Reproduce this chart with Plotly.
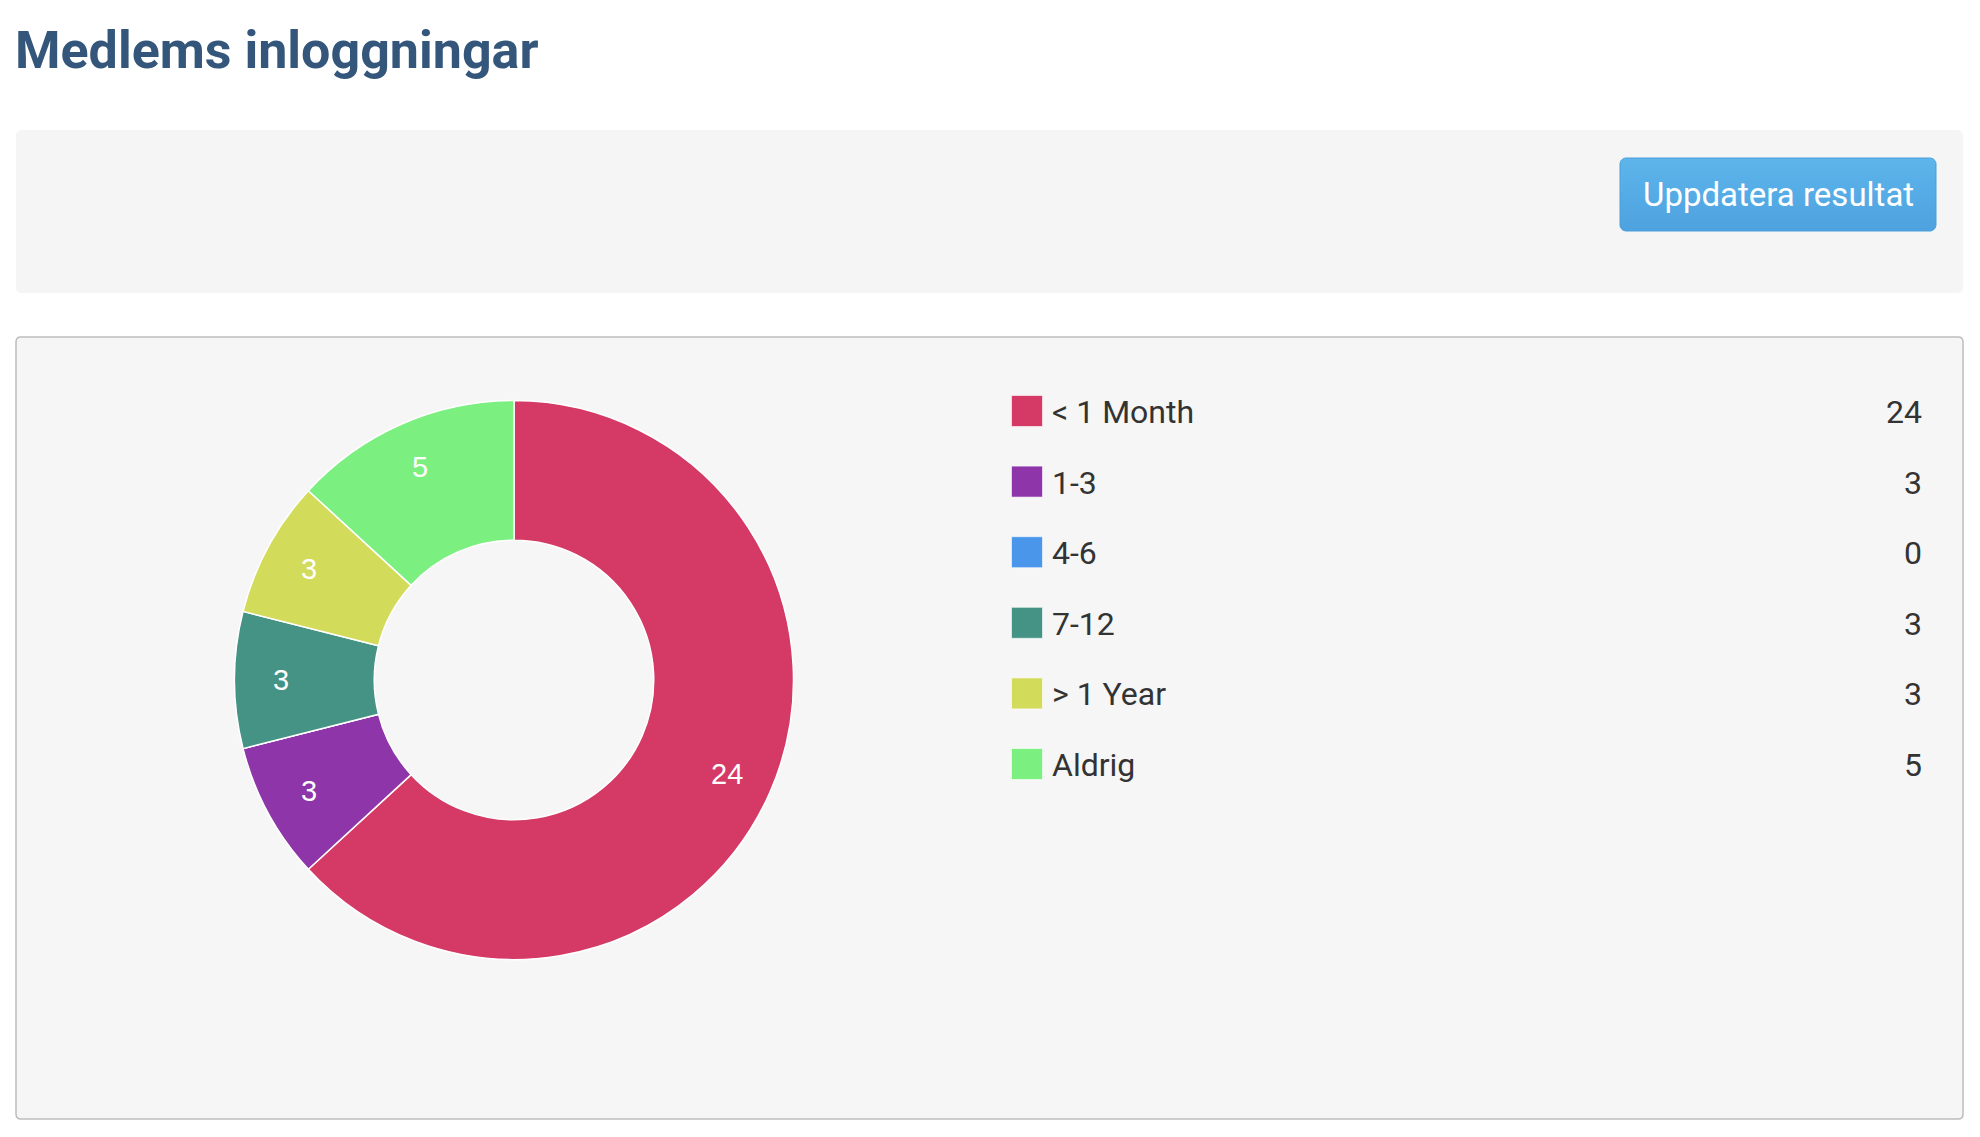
import numpy as np
import plotly.graph_objects as go

# login buckets and member counts
labels = ['< 1 Month', '1-3', '4-6', '7-12', '> 1 Year', 'Aldrig']
counts = [24, 3, 0, 3, 3, 5]
colors = ['#d43a65', '#8e35a9', '#4a96eb', '#459384', '#d3db5a', '#7bef7f']

title_text = 'Medlems inloggningar'
button_text = 'Uppdatera resultat'

W, H = 1964, 1121  # figure size (page minus body margin)
OFF = 8            # default body margin of the page


def px(v):
    """Page pixel -> figure pixel."""
    return v - OFF


def rounded_rect(x0, y0, x1, y1, r):
    """SVG path for a rounded rectangle in pixel coords."""
    x0, y0, x1, y1 = px(x0), px(y0), px(x1), px(y1)
    return (f"M{x0 + r},{y0} L{x1 - r},{y0} Q{x1},{y0} {x1},{y0 + r} "
            f"L{x1},{y1 - r} Q{x1},{y1} {x1 - r},{y1} L{x0 + r},{y1} "
            f"Q{x0},{y1} {x0},{y1 - r} L{x0},{y0 + r} Q{x0},{y0} {x0 + r},{y0} Z")


def rounded_poly(x0, y0, x1, y1, r, n=8):
    """Polygon outline (x, y lists) of a rounded rectangle, for filled scatter."""
    corners = [(x1 - r, y0 + r, -90), (x1 - r, y1 - r, 0), (x0 + r, y1 - r, 90), (x0 + r, y0 + r, 180)]
    xs, ys = [], []
    for ccx, ccy, a0 in corners:
        t = np.radians(np.linspace(a0, a0 + 90, n))
        xs += list(ccx + r * np.cos(t))
        ys += list(ccy + r * np.sin(t))
    return xs + xs[:1], ys + ys[:1]


fig = go.Figure()

# donut
cx, cy, R = px(514), px(680), 279.5
fig.add_trace(go.Pie(
    labels=labels,
    values=counts,
    textinfo='none',
    hole=0.5,
    sort=False,
    direction='clockwise',
    rotation=0,
    marker=dict(colors=colors, line=dict(color='white', width=1.5)),
    showlegend=False,
    hoverinfo='label+value',
    domain=dict(x=[(cx - R) / W, (cx + R) / W], y=[1 - (cy + R) / H, 1 - (cy - R) / H]),
))

# slice value labels, placed at each slice's middle angle
total = sum(counts)
label_r = 233
cum = 0
for c in counts:
    mid = (cum + c / 2) / total * 2 * np.pi
    cum += c
    if not c:
        continue
    fig.add_annotation(x=cx + label_r * np.sin(mid), y=cy - label_r * np.cos(mid),
                       xref='x', yref='y', text=str(c), showarrow=False,
                       font=dict(family='Liberation Sans, Arial, sans-serif', size=29, color='white'))

# html-style legend: swatch, label, value
row_y = [px(411 + i * 70.6) for i in range(len(labels))]
text_y = [y + 4 for y in row_y]
fig.add_trace(go.Scatter(
    x=[px(1027)] * len(labels), y=row_y, mode='markers',
    marker=dict(symbol='square', size=31, color=colors,
                line=dict(color='rgba(255,255,255,0.6)', width=1)),
    hoverinfo='skip', showlegend=False,
))
fig.add_trace(go.Scatter(
    x=[px(1052)] * len(labels), y=text_y, mode='text', text=labels,
    textposition='middle right',
    textfont=dict(family='Roboto', size=32, color='#333333'),
    hoverinfo='skip', showlegend=False,
))
fig.add_trace(go.Scatter(
    x=[px(1922)] * len(labels), y=text_y, mode='text', text=[str(c) for c in counts],
    textposition='middle left',
    textfont=dict(family='Roboto', size=32, color='#333333'),
    hoverinfo='skip', showlegend=False,
))

# button with rounded corners and a soft vertical gradient
bx0, by0, bx1, by1 = px(1620), px(158), px(1936), px(231)
bxs, bys = rounded_poly(bx0, by0, bx1, by1, 6)
fig.add_trace(go.Scatter(
    x=bxs, y=bys,
    mode='lines', fill='toself',
    fillgradient=dict(type='vertical', colorscale=[[0, '#4ea2df'], [1, '#5db5eb']]),
    line=dict(color='#4b9fdc', width=1),
    hoverinfo='skip', showlegend=False,
))

fig.add_annotation(x=(bx0 + bx1) / 2, y=(by0 + by1) / 2, xref='x', yref='y',
                   text=button_text, showarrow=False,
                   font=dict(family='Roboto', size=33, color='white'))

fig.add_annotation(x=px(13), y=px(50), xref='x', yref='y', xanchor='left', yanchor='middle',
                   text=f'<b>{title_text}</b>', showarrow=False,
                   font=dict(family='Roboto', size=52, color='#34567a'))

fig.update_layout(
    width=W, height=H,
    margin=dict(l=0, r=0, t=0, b=0),
    paper_bgcolor='white', plot_bgcolor='white',
    xaxis=dict(range=[0, W], visible=False, fixedrange=True),
    yaxis=dict(range=[H, 0], visible=False, fixedrange=True),
    shapes=[
        dict(type='path', path=rounded_rect(16, 130, 1963, 293, 6), xref='x', yref='y',
             fillcolor='#f5f5f5', line=dict(width=0), layer='below'),
        dict(type='path', path=rounded_rect(16, 337, 1963, 1119, 5), xref='x', yref='y',
             fillcolor='#f6f6f6', line=dict(color='#bdbdbd', width=1.5), layer='below'),
    ],
)

fig.write_html("out.html")
